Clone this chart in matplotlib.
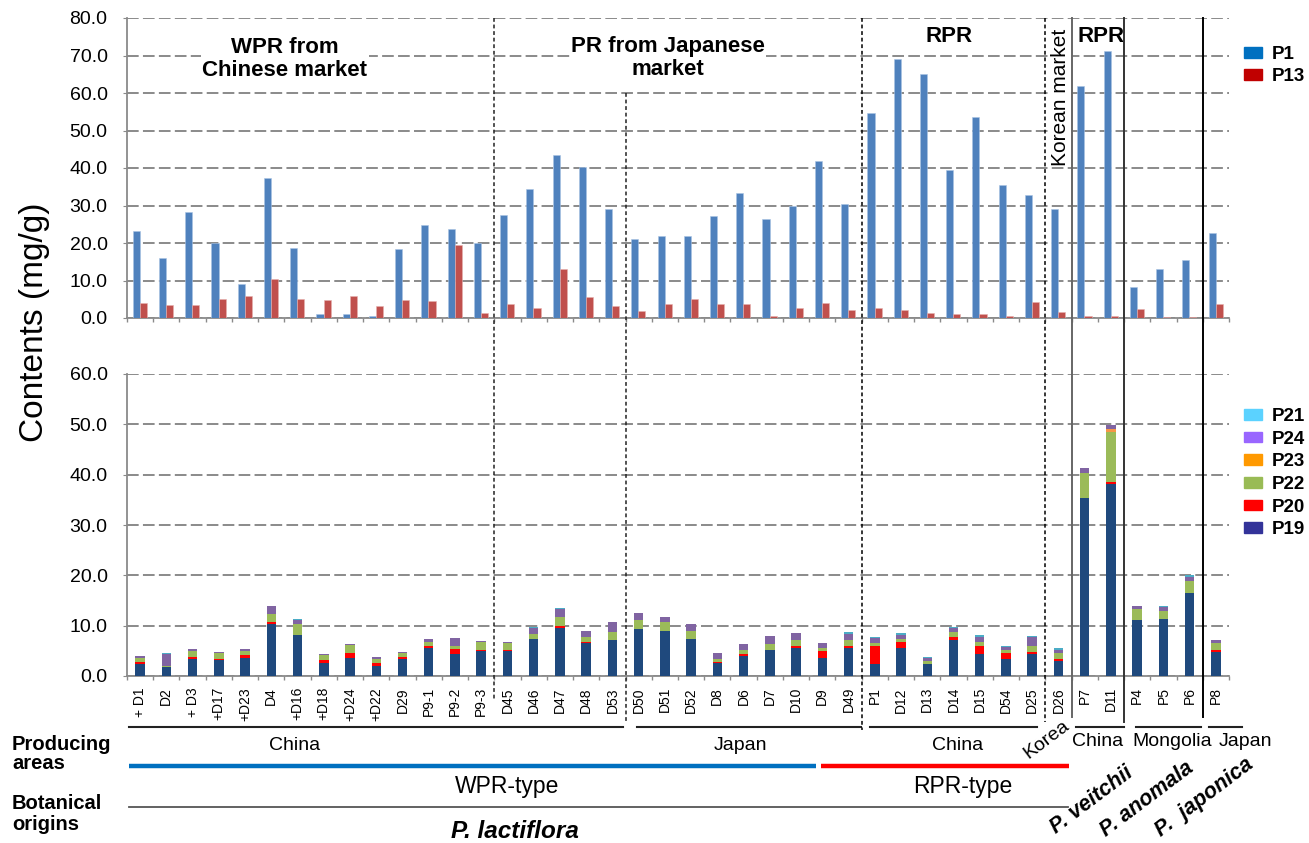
import matplotlib
matplotlib.use("Agg")
import matplotlib.pyplot as plt
from matplotlib.patches import Patch
from matplotlib.lines import Line2D
from matplotlib.transforms import blended_transform_factory
import numpy as np

plt.rcParams["font.family"] = ["Liberation Sans", "DejaVu Sans"]

# ---- data ----
samples = ["+ D1", "D2", "+ D3", "+D17", "+D23", "D4", "+D16", "+D18", "+D24", "+D22",
           "D29", "P9-1", "P9-2", "P9-3", "D45", "D46", "D47", "D48", "D53",
           "D50", "D51", "D52", "D8", "D6", "D7", "D10", "D9", "D49",
           "P1", "D12", "D13", "D14", "D15", "D54", "D25", "D26",
           "P7", "D11", "P4", "P5", "P6", "P8"]

p1 = [23.3, 15.9, 28.2, 20.1, 9.1, 37.4, 18.6, 1.0, 1.2, 0.5, 18.3, 24.7, 23.7, 19.9,
      27.4, 34.3, 43.4, 40.3, 29.2, 21.1, 22.0, 21.8, 27.2, 33.3, 26.5, 29.9, 41.9, 30.4,
      54.6, 69.1, 65.0, 39.5, 53.7, 35.4, 32.9, 29.0, 61.8, 71.3, 8.4, 13.1, 15.5, 22.8]
p13 = [3.9, 3.5, 3.5, 5.2, 5.9, 10.3, 5.2, 4.9, 5.9, 3.2, 4.9, 4.6, 19.6, 1.4,
       3.7, 2.7, 13.0, 5.6, 3.2, 1.8, 3.7, 5.2, 3.7, 3.7, 0.5, 2.7, 3.9, 2.2,
       2.7, 2.2, 1.4, 1.0, 1.2, 0.5, 4.4, 1.7, 0.5, 0.5, 2.4, 0.3, 0.3, 3.7]

p19 = [2.4, 1.7, 3.4, 3.2, 3.6, 10.3, 8.1, 2.6, 3.6, 2.0, 3.4, 5.6, 4.4, 5.0,
       5.0, 7.3, 9.5, 6.5, 7.1, 9.3, 8.9, 7.3, 2.6, 3.9, 5.2, 5.6, 3.6, 5.6,
       2.4, 5.6, 2.3, 7.2, 4.3, 3.4, 4.3, 2.9, 35.3, 38.1, 11.1, 11.3, 16.5, 4.8]
p20 = [0.4, 0.05, 0.3, 0.2, 0.5, 0.5, 0.1, 0.6, 0.9, 0.6, 0.4, 0.3, 1.0, 0.2,
       0.2, 0.1, 0.4, 0.25, 0.05, 0.05, 0.05, 0.05, 0.2, 0.4, 0.05, 0.4, 1.4, 0.4,
       3.6, 1.1, 0.05, 0.5, 1.7, 1.2, 0.5, 0.5, 0.05, 0.4, 0.05, 0.05, 0.05, 0.4]
p22 = [0.8, 0.3, 1.2, 1.1, 0.9, 1.6, 2.2, 0.9, 1.6, 0.8, 0.7, 0.9, 0.5, 1.6,
       1.3, 0.9, 1.8, 1.0, 1.6, 1.7, 1.7, 1.6, 0.5, 0.9, 1.1, 1.1, 0.6, 1.2,
       0.6, 0.6, 0.6, 1.0, 0.7, 0.5, 1.1, 1.1, 4.9, 9.9, 2.1, 1.5, 2.4, 1.3]
p23 = [0, 0, 0, 0, 0, 0, 0, 0, 0, 0, 0, 0, 0, 0,
       0, 0, 0, 0, 0, 0, 0, 0, 0, 0, 0, 0, 0, 0,
       0, 0, 0, 0, 0, 0, 0, 0, 0, 0.6, 0, 0, 0, 0]
p24 = [0.3, 2.25, 0.5, 0.3, 0.3, 1.5, 0.7, 0.2, 0.2, 0.3, 0.3, 0.6, 1.6, 0.2,
       0.3, 1.2, 1.7, 1.2, 2.0, 1.4, 1.1, 1.3, 1.2, 1.1, 1.5, 1.4, 0.9, 1.1,
       0.9, 0.8, 0.7, 0.8, 1.0, 0.7, 1.8, 0.7, 1.1, 0.9, 0.7, 0.9, 0.8, 0.7]
p21 = [0.05, 0.2, 0.05, 0.05, 0.05, 0, 0.2, 0.05, 0.05, 0, 0.05, 0.05, 0.05, 0,
       0, 0.2, 0.2, 0, 0, 0, 0, 0, 0, 0, 0, 0, 0, 0.4,
       0.3, 0.5, 0.2, 0.2, 0.5, 0.2, 0.3, 0.3, 0.05, 0, 0, 0.2, 0.3, 0]

stack_names = ["P19", "P20", "P22", "P23", "P24", "P21"]
stack_values = [p19, p20, p22, p23, p24, p21]
stack_colors = ["#1F497D", "#FF0000", "#9BBB59", "#F79646", "#8064A2", "#4BACC6"]
legend_colors = {"P21": "#5BD2FF", "P24": "#9966FF", "P23": "#FF9900",
                 "P22": "#99BB55", "P20": "#FF0000", "P19": "#333399"}

# ---- figure ----
W, H = 1309, 843
fig = plt.figure(figsize=(W / 100, H / 100), dpi=100)


def fx(px):
    return px / W


def fy(py):
    return 1 - py / H


ax_top = fig.add_axes([fx(127), fy(318), fx(1229) - fx(127), fy(18) - fy(318)])
ax_bot = fig.add_axes([fx(127), fy(676), fx(1229) - fx(127), fy(374) - fy(676)])

x = np.arange(len(samples))
grey = "#8a8a8a"

ax_top.bar(x - 0.145, p1, 0.27, color="#4F81BD", edgecolor="#a9c4e4", linewidth=0.4, zorder=3)
ax_top.bar(x + 0.125, p13, 0.27, color="#C0504D", edgecolor="#e6b0ae", linewidth=0.4, zorder=3)

bottom = np.zeros(len(samples))
for name, vals, col in zip(stack_names, stack_values, stack_colors):
    ax_bot.bar(x, vals, 0.36, bottom=bottom, color=col, edgecolor="none", zorder=3)
    bottom += np.array(vals)

for ax, top, step in [(ax_top, 80, 10), (ax_bot, 60, 10)]:
    ax.set_xlim(-0.5, len(samples) - 0.5)
    ax.set_ylim(0, top)
    ax.set_yticks(np.arange(0, top + 1, step))
    ax.set_yticklabels([f"{v:.1f}" for v in np.arange(0, top + 1, step)])
    ax.yaxis.grid(True, color=grey, linestyle=(0, (6, 2.2)), linewidth=1.4)
    ax.set_axisbelow(True)
    for s in ["top", "right"]:
        ax.spines[s].set_visible(False)
    for s in ["left", "bottom"]:
        ax.spines[s].set_color(grey)
        ax.spines[s].set_linewidth(1.3)
    ax.tick_params(axis="y", color=grey, length=3, labelsize=14, pad=11)
    ax.set_xticks(x)
    ax.set_xticks(np.arange(-0.5, len(samples), 1), minor=True)
    ax.tick_params(axis="x", which="minor", color=grey, length=3, width=1)
    ax.tick_params(axis="x", which="major", length=0)
    ax.patch.set_alpha(0)

ax_top.set_xticklabels([])
ax_bot.set_xticklabels(samples, rotation=90, fontsize=10,
                       family=["Liberation Sans Narrow", "Liberation Sans"])
ax_bot.tick_params(axis="x", which="major", pad=8)

fig.text(fx(35), fy(322), "Contents (mg/g)", rotation=90, ha="center", va="center", fontsize=24)

# ---- separators ----
trans = blended_transform_factory(ax_bot.transData, fig.transFigure)
separators = [(14, 18, 700, "dash", "#222222"), (19, 93, 723, "dash", "#222222"),
              (28, 18, 730, "dash", "#000000"), (35, 18, 722, "dash", "#000000"),
              (36, 18, 717, "solid", "#666666"), (38, 18, 722, "solid", "#333333"),
              (41, 18, 717, "solid", "#000000")]
for b, y0, y1, style, col in separators:
    ls = (0, (2.5, 1.8)) if style == "dash" else "-"
    lw = 1.1 if style == "dash" else 1.4
    fig.add_artist(Line2D([b - 0.5, b - 0.5], [fy(y0), fy(y1)], transform=trans,
                          color=col, linestyle=ls, linewidth=lw, zorder=5))

# group underlines
for a, b in [(-0.42, 18.4), (18.94, 27.47), (27.8, 34.2), (35.67, 37.5), (37.95, 40.43), (40.73, 41.99)]:
    fig.add_artist(Line2D([a, b], [fy(727), fy(727)], transform=trans, color="#222222", linewidth=1.5))
fig.add_artist(Line2D([-0.42, 25.76], [fy(766), fy(766)], transform=trans, color="#0070C0", linewidth=3.2,
                      solid_capstyle="butt"))
fig.add_artist(Line2D([25.95, 35.4], [fy(766), fy(766)], transform=trans, color="#FF0000", linewidth=3.2,
                      solid_capstyle="butt"))
fig.add_artist(Line2D([-0.42, 35.36], [fy(807), fy(807)], transform=trans, color="#555555", linewidth=1.3))

# ---- annotations ----
box = dict(facecolor="white", edgecolor="none", pad=1)
fig.text(fx(285), fy(59), "WPR from\nChinese market", ha="center", va="center", fontsize=16,
         fontweight="bold", linespacing=1.15, bbox=box)
fig.text(fx(668), fy(58), "PR from Japanese\nmarket", ha="center", va="center", fontsize=16,
         fontweight="bold", linespacing=1.15, bbox=box)
fig.text(fx(949), fy(36), "RPR", ha="center", va="center", fontsize=16, fontweight="bold", bbox=box)
fig.text(fx(1101), fy(36), "RPR", ha="center", va="center", fontsize=16, fontweight="bold", bbox=box)
fig.text(fx(1061), fy(97), "Korean market", rotation=90, ha="center", va="center", fontsize=15, bbox=box)

fig.text(fx(12), fy(754), "Producing\nareas", ha="left", va="center", fontsize=14.5,
         fontweight="bold", linespacing=1.05)
fig.text(fx(12), fy(814), "Botanical\norigins", ha="left", va="center", fontsize=14.5,
         fontweight="bold", linespacing=1.15)

for label, px, py in [("China", 295, 745), ("Japan", 740, 745), ("China", 958, 745),
                      ("China", 1098, 742), ("Mongolia", 1172, 742), ("Japan", 1245, 742)]:
    fig.text(fx(px), fy(py), label, ha="center", va="center", fontsize=14)
fig.text(fx(1047), fy(740), "Korea", rotation=37, ha="center", va="center", fontsize=14)

fig.text(fx(507), fy(787), "WPR-type", ha="center", va="center", fontsize=16.5)
fig.text(fx(963), fy(787), "RPR-type", ha="center", va="center", fontsize=16.5)
fig.text(fx(515), fy(832), "P. lactiflora", ha="center", va="center", fontsize=17.5,
         fontweight="bold", fontstyle="italic")
for label, px, py in [("P. veitchii", 1092, 800), ("P. anomala", 1147, 799), ("P.  japonica", 1204, 797)]:
    fig.text(fx(px), fy(py), label, rotation=37, ha="center", va="center", fontsize=15.5,
             fontweight="bold", fontstyle="italic")

# ---- legends ----
top_handles = [Patch(color="#0070C0", label="P1"), Patch(color="#C00000", label="P13")]
fig.legend(handles=top_handles, loc="upper left", bbox_to_anchor=(fx(1244), fy(46)),
           frameon=False, prop=dict(weight="bold", size=13.5), handlelength=0.95, handleheight=0.5,
           handletextpad=0.55, labelspacing=0.28, borderpad=0, borderaxespad=0)

bot_handles = [Patch(color=legend_colors[n], label=n) for n in ["P21", "P24", "P23", "P22", "P20", "P19"]]
fig.legend(handles=bot_handles, loc="upper left", bbox_to_anchor=(fx(1244), fy(408)),
           frameon=False, prop=dict(weight="bold", size=13.5), handlelength=0.95, handleheight=0.5,
           handletextpad=0.55, labelspacing=0.3, borderpad=0, borderaxespad=0)

fig.savefig("out.png", dpi=100)
